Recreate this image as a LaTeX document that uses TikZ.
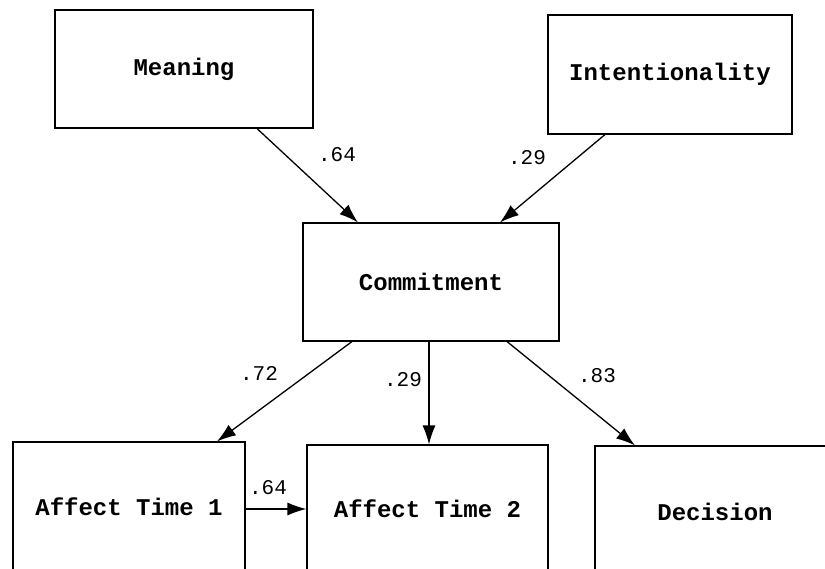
\documentclass[tikz,border=0pt]{standalone}
\usepackage{fontspec}
\setmonofont{Liberation Mono}
\usetikzlibrary{arrows.meta}
\begin{document}
\begin{tikzpicture}[x=1pt,y=-1pt,
  box/.style={draw, line width=1.1pt, inner sep=0pt, font=\fontsize{24}{27}\selectfont\ttfamily\bfseries},
  conn/.style={line width=1.3pt, -{Latex[length=19pt,width=13pt]}},
  coef/.style={font=\fontsize{21}{24}\selectfont\ttfamily, inner sep=0pt}]
\useasboundingbox (0,0) rectangle (825,569);
\clip (0,0) rectangle (825,569);
\node[box, minimum width=258pt, minimum height=118pt] (mea) at (184,69) {Meaning};
\node[box, minimum width=244pt, minimum height=119pt] (int) at (670,74.5) {Intentionality};
\node[box, minimum width=256pt, minimum height=118pt] (com) at (431,282) {Commitment};
\node[box, minimum width=232pt, minimum height=130pt] (at1) at (129,507) {Affect Time 1};
\node[box, minimum width=241pt, minimum height=128pt] (at2) at (427.5,509) {Affect Time 2};
\node[box, minimum width=240pt, minimum height=132pt] (dec) at (715,512) {Decision};
\draw[conn] ([xshift=73pt]mea.south) -- ([xshift=-73pt]com.north);
\draw[conn] ([xshift=-65pt]int.south) -- ([xshift=69pt]com.north);
\draw[conn] ([xshift=-79pt]com.south) -- ([xshift=88pt]at1.north);
\draw[conn] ([xshift=-2pt]com.south) -- ([xshift=1.5pt]at2.north);
\draw[conn] ([xshift=76pt]com.south) -- ([xshift=-80pt]dec.north);
\draw[conn] ([yshift=-2pt]at1.east) -- ([yshift=-2pt]at1.east -| at2.west);
\node[coef] (l1) at (337,155) {.64};
\node[coef] (l2) at (527,158) {.29};
\node[coef] (l3) at (259,373) {.72};
\node[coef] (l4) at (403,380) {.29};
\node[coef] (l5) at (597,376) {.83};
\node[coef] (l6) at (268,488) {.64};
\end{tikzpicture}
\end{document}
